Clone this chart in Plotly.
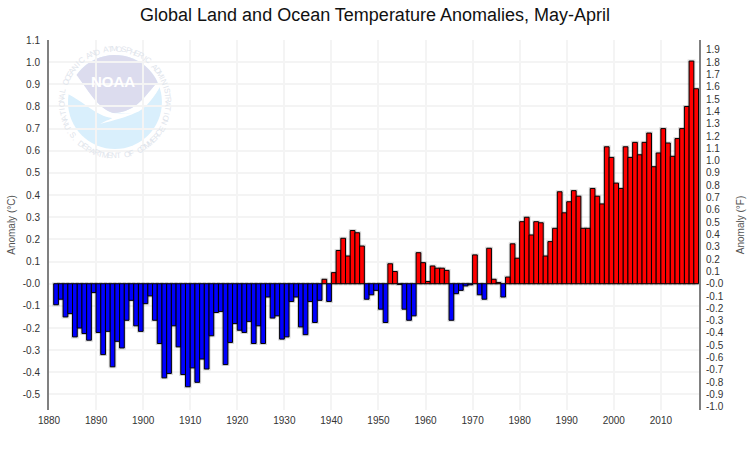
import math

import plotly.graph_objects as go

# May-April anomalies in deg C
years = list(range(1881, 2018))
anomalies = [
    -0.095, -0.07, -0.15, -0.135, -0.24, -0.20, -0.225, -0.255, -0.04, -0.22,
    -0.32, -0.215, -0.375, -0.26, -0.29, -0.165, -0.075, -0.19, -0.215, -0.09,
    -0.055, -0.165, -0.27, -0.425, -0.405, -0.19, -0.285, -0.41, -0.465, -0.38,
    -0.445, -0.34, -0.385, -0.235, -0.13, -0.125, -0.365, -0.265, -0.18, -0.21,
    -0.22, -0.17, -0.27, -0.19, -0.27, -0.06, -0.155, -0.145, -0.25, -0.24,
    -0.08, -0.06, -0.195, -0.23, -0.08, -0.175, -0.075, 0.02, -0.08, 0.05,
    0.15, 0.205, 0.125, 0.24, 0.23, 0.17, -0.07, -0.05, -0.03, -0.115,
    -0.175, 0.09, 0.055, -0.003, -0.115, -0.165, -0.145, 0.14, 0.095, 0.01,
    0.08, 0.07, 0.07, 0.06, -0.165, -0.045, -0.03, -0.01, -0.005, 0.13,
    -0.05, -0.07, 0.16, 0.02, 0.005, -0.06, 0.03, 0.18, 0.115, 0.28,
    0.30, 0.22, 0.28, 0.275, 0.125, 0.19, 0.25, 0.415, 0.32, 0.37,
    0.42, 0.395, 0.25, 0.25, 0.43, 0.395, 0.36, 0.618, 0.57, 0.454,
    0.43, 0.618, 0.57, 0.638, 0.582, 0.638, 0.68, 0.528, 0.59, 0.70,
    0.635, 0.575, 0.655, 0.70, 0.80, 1.005, 0.88,
]

year_ticks = list(range(1880, 2020, 10))
c_ticks = [-0.5, -0.4, -0.3, -0.2, -0.1, 0.0, 0.1, 0.2, 0.3, 0.4, 0.5, 0.6, 0.7, 0.8, 0.9, 1.0, 1.1]
c_labels = ["-0.5", "-0.4", "-0.3", "-0.2", "-0.1", "-0.0", "0.1", "0.2", "0.3", "0.4", "0.5",
            "0.6", "0.7", "0.8", "0.9", "1.0", "1.1"]
f_ticks = [i / 10 for i in range(-10, 20)]
f_labels = ["-0.0" if i == 0 else f"{i / 10:.1f}" for i in range(-10, 20)]

C_RANGE = [-0.57, 1.1]
F_RANGE = [C_RANGE[0] * 1.8, C_RANGE[1] * 1.8]

WIDTH, HEIGHT = 750, 450
LEFT, RIGHT, TOP, BOTTOM = 49, 50.5, 40, 40
FONT = "Liberation Sans, Arial, sans-serif"


def px_x(x):
    return (x - LEFT) / (WIDTH - LEFT - RIGHT)


def px_y(y):
    return 1 - (y - TOP) / (HEIGHT - TOP - BOTTOM)


def xy(pt):
    return f"{px_x(pt[0]):.5f},{px_y(pt[1]):.5f}"


def logo_path(start, *segments):
    # a segment is one point (line) or three points (curve)
    parts = [f"M{xy(start)}"]
    for seg in segments:
        if len(seg) == 3:
            parts.append("C" + " ".join(xy(p) for p in seg))
        else:
            parts.append(f"L{xy(seg[0])}")
    return " ".join(parts) + " Z"


def logo_shape(path, color):
    return dict(type="path", xref="paper", yref="paper", path=path,
                fillcolor=color, line=dict(width=0), layer="below")


# NOAA logo, sits behind the gridlines
CX, CY, R = 115, 102, 47
cap_pts = [(CX + R * math.cos(math.radians(a)), CY + R * math.sin(math.radians(a))) for a in range(-145, -22, 6)]
logo_shapes = [
    dict(type="circle", xref="paper", yref="paper", x0=px_x(CX - R), x1=px_x(CX + R),
         y0=px_y(CY + R), y1=px_y(CY - R), fillcolor="#d9effc", line=dict(width=0), layer="below"),
    # white swoosh across the disc
    logo_shape(logo_path((62, 72), [(75, 72)], [(87, 88), (97, 108), (113, 113)],
                         [(123, 114), (128, 113), (135, 113)],
                         [(127, 117), (115, 120), (100, 124)],
                         [(107, 120), (112, 119), (112, 118)],
                         [(97, 117), (80, 98), (63, 92)]), "white"),
    logo_shape(logo_path((113, 113), [(138, 112), (145, 95), (157, 83)], [(162, 83)],
                         [(155, 97), (145, 110), (135, 113)]), "white"),
    # purple upper cap
    logo_shape(logo_path(cap_pts[0], *[[p] for p in cap_pts[1:]],
                         [(157, 83)],
                         [(145, 95), (138, 112), (113, 113)],
                         [(97, 108), (87, 88), cap_pts[0]]), "#dcdcee"),
]


def ring_text(text, start, end, radius, bottom=False):
    notes = []
    for i, ch in enumerate(text):
        a = start + (end - start) * i / (len(text) - 1)
        rad = math.radians(a)
        notes.append(dict(
            text=ch, showarrow=False, xref="paper", yref="paper",
            x=px_x(CX + radius * math.cos(rad)), y=px_y(CY + radius * math.sin(rad)),
            xanchor="center", yanchor="middle",
            textangle=a - 90 if bottom else a + 90,
            font=dict(family=FONT, size=8, color="#dfe5ec"),
        ))
    return notes


logo_notes = ring_text("NATIONAL OCEANIC AND ATMOSPHERIC ADMINISTRATION", -202, 22, 53)
logo_notes += ring_text("U.S. DEPARTMENT OF COMMERCE", 152, 30, 54, bottom=True)
logo_notes.append(dict(text="<b>NOAA</b>", showarrow=False, xref="paper", yref="paper",
                       x=px_x(113), y=px_y(82), xanchor="center", yanchor="middle",
                       font=dict(family=FONT, size=15, color="white")))

bar_colors = ["#ff0000" if v > 0 else "#0000ff" for v in anomalies]

fig = go.Figure()
# soft shadow round the bars
fig.add_trace(
    go.Bar(x=years, y=anomalies, offset=0, width=1, showlegend=False, hoverinfo="skip",
           marker=dict(color="rgba(0,0,0,0)", line=dict(color="rgba(0,0,0,0.15)", width=3)))
)
fig.add_trace(
    go.Bar(
        x=years,
        y=anomalies,
        offset=0,
        width=1,
        marker=dict(color=bar_colors, line=dict(color="#000000", width=1)),
        showlegend=False,
    )
)
# invisible trace so the deg F axis is drawn
fig.add_trace(go.Scatter(x=[year_ticks[0]], y=[0], yaxis="y2", mode="markers",
                         marker=dict(opacity=0), showlegend=False, hoverinfo="skip"))

fig.update_layout(
    width=WIDTH,
    height=HEIGHT,
    margin=dict(l=LEFT, r=RIGHT, t=TOP, b=BOTTOM, autoexpand=False),
    paper_bgcolor="white",
    plot_bgcolor="rgba(0,0,0,0)",
    font=dict(family=FONT, size=10, color="#333333"),
    title=dict(text="Global Land and Ocean Temperature Anomalies, May-April",
               x=0.5, xanchor="center", y=0.968, yanchor="middle",
               font=dict(family=FONT, size=18, color="#111111")),
    barmode="overlay",
    xaxis=dict(range=[1880, 2018.1], tickvals=year_ticks, showgrid=True, gridcolor="#f4f4f4",
               gridwidth=1.5, zeroline=False, showline=False, ticks="", ticklabelstandoff=3),
    yaxis=dict(range=C_RANGE, tickvals=c_ticks, ticktext=c_labels, showgrid=True,
               gridcolor="#f4f4f4", gridwidth=1.5, zeroline=False, showline=True,
               linecolor="#808080", linewidth=2, ticks="", ticklabelstandoff=5,
               title=dict(text="Anomaly (°C)", font=dict(size=10, color="#555555"), standoff=5)),
    yaxis2=dict(range=F_RANGE, tickvals=f_ticks, ticktext=f_labels, overlaying="y", side="right",
                showgrid=False, zeroline=False, showline=True, linecolor="#808080", linewidth=2,
                ticks="", ticklabelstandoff=3,
                title=dict(text="Anomaly (°F)", font=dict(size=10, color="#555555"), standoff=14)),
    shapes=logo_shapes,
    annotations=logo_notes,
)

fig.write_html("out.html", config={"displayModeBar": False},
               post_script="document.body.style.margin='0';")
